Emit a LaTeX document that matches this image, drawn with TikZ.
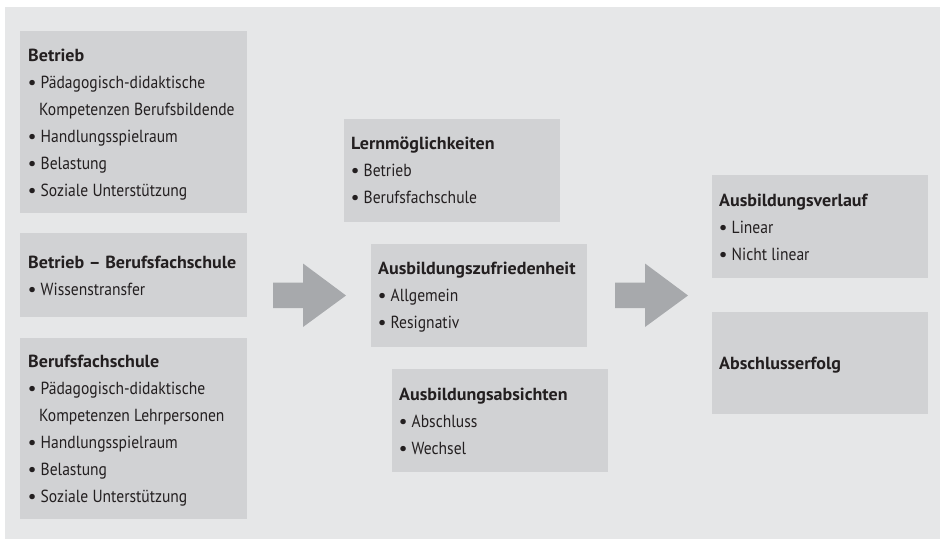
\documentclass[tikz,border=0pt]{standalone}
\usepackage{fontspec}
\setmainfont{PT Sans}[FakeStretch=0.89, BoldFeatures={FakeStretch=1.03}]
\usetikzlibrary{calc}
\definecolor{bggray}{HTML}{E6E7E8}
\definecolor{boxgray}{HTML}{D1D2D4}
\definecolor{arrowgray}{HTML}{A7A9AC}
\definecolor{ink}{HTML}{231F20}
\tikzset{
  box/.style={fill=boxgray, draw=none, anchor=north west, inner sep=0pt},
  txt/.style={anchor=base west, inner sep=0pt, text=ink, font=\fontsize{17.5}{20}\selectfont},
  head/.style={txt, font=\fontsize{17.5}{20}\selectfont\bfseries},
  dot/.style={head},
  bigarrow/.style={fill=arrowgray, draw=none},
}
% box: name, top-left, width, height
\newcommand\panel[4]{\node[box, minimum width=#3, minimum height=#4] (#1) at (#2) {};}
% bulleted entry: name, base-left position of bullet, text
\newcommand\entry[3]{%
  \node[dot] (#1b) at (#2) {\textbullet};
  \node[txt] (#1) at ($(#2)+(12.5,0)$) {#3};}
\begin{document}
\begin{tikzpicture}[x=1pt, y=-1pt]
  \useasboundingbox (0,0) rectangle (940,539);
  \fill[bggray] (5,7) rectangle (940,539);

  % left column
  \panel{betrieb}{20,31}{227}{182}
  \node[head] (betriebT) at (28,61) {Betrieb};
  \entry{b1}{28,88}{Pädagogisch-didaktische}
  \node[txt] (b1c) at (39,115) {Kompetenzen Berufsbildende};
  \entry{b2}{28,142}{Handlungsspielraum}
  \entry{b3}{28,169}{Belastung}
  \entry{b4}{28,196}{Soziale Unterstützung}

  \panel{bb}{20,233}{227}{84}
  \node[head] (bbT) at (28,268) {Betrieb – Berufsfachschule};
  \entry{bb1}{28,295}{Wissenstransfer}

  \panel{bfs}{20,338}{227}{181}
  \node[head] (bfsT) at (28,367) {Berufsfachschule};
  \entry{s1}{28,394}{Pädagogisch-didaktische}
  \node[txt] (s1c) at (39,421) {Kompetenzen Lehrpersonen};
  \entry{s2}{28,448}{Handlungsspielraum}
  \entry{s3}{28,475}{Belastung}
  \entry{s4}{28,502}{Soziale Unterstützung}

  % middle column
  \panel{lern}{344,119}{216}{103}
  \node[head] (lernT) at (351,149.5) {Lernmöglichkeiten};
  \entry{l1}{351,176.5}{Betrieb}
  \entry{l2}{351,203.5}{Berufsfachschule}

  \panel{zuf}{371,244}{216}{103}
  \node[head] (zufT) at (378,274.5) {Ausbildungszufriedenheit};
  \entry{z1}{378,301.5}{Allgemein}
  \entry{z2}{378,328.5}{Resignativ}

  \panel{abs}{392,369}{216}{103}
  \node[head] (absT) at (399,400) {Ausbildungsabsichten};
  \entry{a1}{399,427}{Abschluss}
  \entry{a2}{399,454}{Wechsel}

  % right column
  \panel{verl}{712,175}{216}{103}
  \node[head] (verlT) at (719,206) {Ausbildungsverlauf};
  \entry{v1}{719,233}{Linear}
  \entry{v2}{719,260}{Nicht linear}

  \panel{ende}{712,312}{216}{102}
  \node[head] (endeT) at (719,369) {Abschlusserfolg};

  % block arrows between the columns
  \fill[bigarrow] (273,282.5) -- (303,282.5) -- (303,263.5) -- (346,295.5)
    -- (303,327) -- (303,308) -- (273,308) -- cycle;
  \fill[bigarrow] (615,282.5) -- (645,282.5) -- (645,263.5) -- (688,295.5)
    -- (645,327) -- (645,308) -- (615,308) -- cycle;
\end{tikzpicture}
\end{document}
